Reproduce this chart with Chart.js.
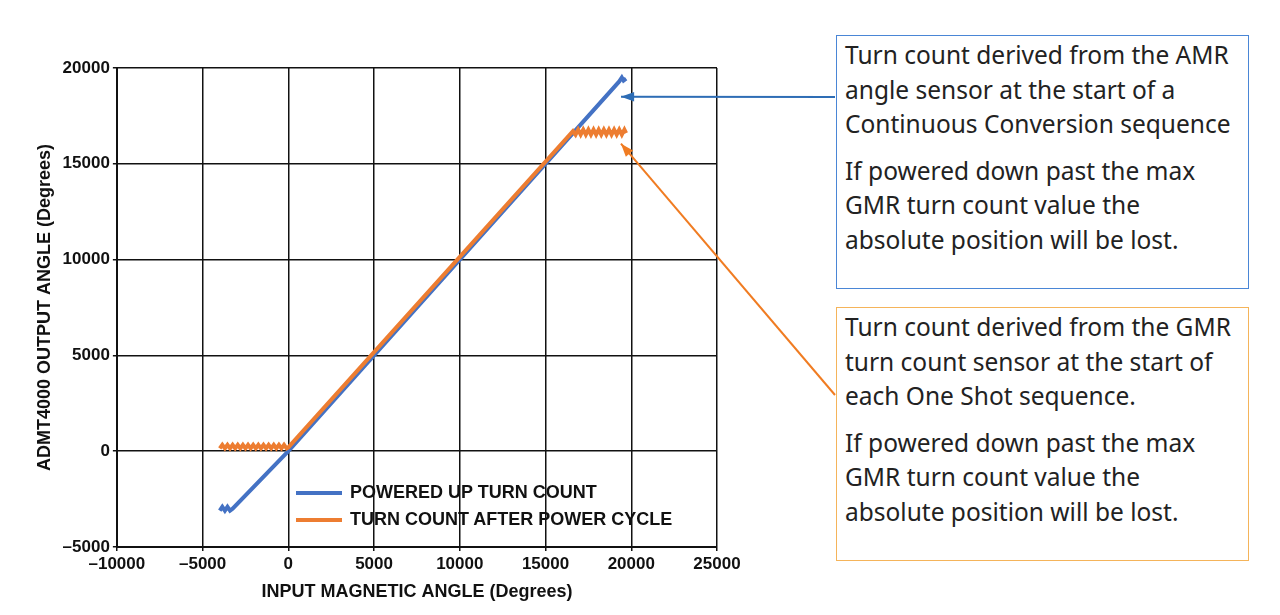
<!DOCTYPE html>
<html><head><meta charset="utf-8">
<script src="https://cdn.jsdelivr.net/npm/chart.js@4/dist/chart.umd.min.js"></script>
<style>
body{margin:0;background:#fff;font-family:"Liberation Sans",Arial,sans-serif}
#wrap{position:relative;width:1280px;height:615px}
canvas{position:absolute;left:0;top:0}
.box{position:absolute;left:836px;width:395px;padding:2px 8px;font-family:"Noto Sans",sans-serif;font-size:24.5px;line-height:34.5px;color:#222;background:#fff}
.box p{margin:0 0 12px 0}
.leg{position:absolute;left:296px;font-weight:bold;font-size:18px;color:#111}
.leg span{display:inline-block;width:46px;height:4px;vertical-align:middle;margin-right:8px}
</style></head><body>
<div id="wrap"><canvas id="c" width="1280" height="615"></canvas>
<div class="box" style="top:35px;height:248px;border:1.5px solid #4a86d6"><p>Turn count derived from the AMR angle sensor at the start of a Continuous Conversion sequence</p><p>If powered down past the max GMR turn count value the absolute position will be lost.</p></div>
<div class="box" style="top:307px;height:248px;border:1.5px solid #f5b45a"><p>Turn count derived from the GMR turn count sensor at the start of each One Shot sequence.</p><p>If powered down past the max GMR turn count value the absolute position will be lost.</p></div>
<div class="leg" style="top:482px"><span style="background:#4472c4"></span>POWERED UP TURN COUNT</div>
<div class="leg" style="top:509px"><span style="background:#ed7d31"></span>TURN COUNT AFTER POWER CYCLE</div>
</div>
<script>
const blueX=[-4000,-3850,-3700,-3550,-3400,-3250,0,19300,19450,19550,19700];
const blueY=[-3100,-2900,-3100,-2900,-3100,-3000,0,19300,19500,19350,19450];
const orangeX=[-4000,-3850,-3700,-3550,-3400,-3250,-3100,-2950,-2800,-2650,-2500,-2350,-2200,-2050,-1900,-1750,-1600,-1450,-1300,-1150,-1000,-850,-700,-550,-400,-250,-100,0,16600,16750,16900,17050,17200,17350,17500,17650,17800,17950,18100,18250,18400,18550,18700,18850,19000,19150,19300,19450,19600,19700];
const orangeY=[150,330,150,330,150,330,150,330,150,330,150,330,150,330,150,330,150,330,150,330,150,330,150,330,150,330,150,200,16700,16520,16780,16520,16780,16520,16780,16520,16780,16520,16780,16520,16780,16520,16780,16520,16780,16520,16780,16520,16780,16600];
const xTicks=[-10000,-5000,0,5000,10000,15000,20000,25000];
const yTicks=[-5000,0,5000,10000,15000,20000];
const arrows=[{from:[835,97],to:[19400,18500],color:'#2e6db5'},{from:[835,395],to:[19400,16050],color:'#f07c22'}];
const pts=(xs,ys)=>xs.map((x,i)=>({x,y:ys[i]}));
const arrowPlugin={id:'arr',afterDraw(ch){const c=ch.ctx;arrows.forEach(a=>{const tx=ch.scales.x.getPixelForValue(a.to[0]),ty=ch.scales.y.getPixelForValue(a.to[1]);const[fx,fy]=a.from;c.save();c.strokeStyle=a.color;c.fillStyle=a.color;c.lineWidth=2;c.beginPath();c.moveTo(fx,fy);c.lineTo(tx,ty);c.stroke();const ang=Math.atan2(ty-fy,tx-fx);c.beginPath();c.moveTo(tx,ty);c.lineTo(tx-14*Math.cos(ang-0.35),ty-14*Math.sin(ang-0.35));c.lineTo(tx-14*Math.cos(ang+0.35),ty-14*Math.sin(ang+0.35));c.closePath();c.fill();c.restore();});}};
const font={family:'"Liberation Sans",Arial',size:17,weight:'bold'};
new Chart(document.getElementById('c'),{type:'scatter',
data:{datasets:[
{data:pts(orangeX,orangeY),showLine:true,borderColor:'#ed7d31',borderWidth:4,pointRadius:0,tension:0,order:1},
{data:pts(blueX,blueY),showLine:true,borderColor:'#4472c4',borderWidth:4,pointRadius:0,tension:0,order:2}]},
options:{responsive:false,animation:false,layout:{padding:{top:68,right:563,bottom:8,left:30}},
plugins:{legend:{display:false},tooltip:{enabled:false}},
scales:{
x:{min:-10000,max:25000,afterBuildTicks:s=>{s.ticks=xTicks.map(v=>({value:v}))},ticks:{color:'#111',font,callback:v=>String(v).replace('-','\u2013'),maxRotation:0},grid:{color:'#111',lineWidth:1.5,tickLength:4},border:{color:'#111',width:2},title:{display:true,text:'INPUT MAGNETIC ANGLE (Degrees)',color:'#111',font:{...font,size:18}}},
y:{min:-5000,max:20000,afterBuildTicks:s=>{s.ticks=yTicks.map(v=>({value:v}))},ticks:{color:'#111',font,callback:v=>String(v).replace('-','\u2013')},grid:{color:'#111',lineWidth:1.5,tickLength:4},border:{color:'#111',width:2},title:{display:true,text:'ADMT4000 OUTPUT ANGLE (Degrees)',color:'#111',font:{...font,size:18}}}}},
plugins:[arrowPlugin]});
</script></body></html>
